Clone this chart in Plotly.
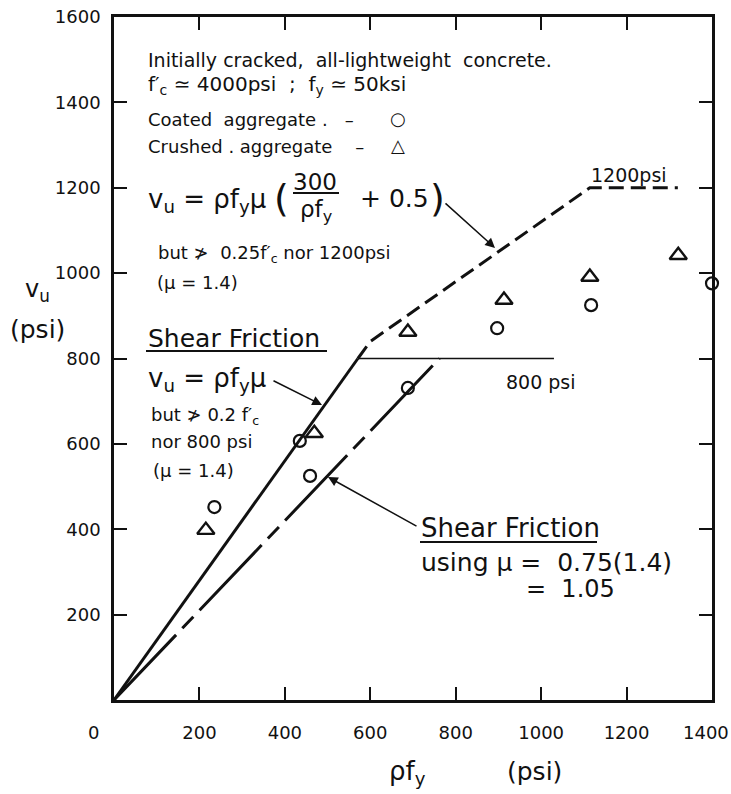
import plotly.graph_objects as go

# ---------------- data ----------------
coated_x = [235, 435, 459, 688, 897, 1117, 1400]
coated_y = [452, 607, 525, 731, 871, 925, 976]
crushed_x = [215, 469, 688, 913, 1114, 1321]
crushed_y = [398, 625, 862, 937, 991, 1042]

sf_x = [0, 571]            # shear friction, mu = 1.4, capped at 800 psi
sf_y = [0, 800]
cap800_x = [571, 1030]     # 800 psi limit
cap800_y = [800, 800]
mod_x = [571, 600, 1114, 1320]   # modified shear friction, capped at 1200 psi
mod_y = [800, 840, 1200, 1200]
red_x = [0, 762]           # shear friction with mu = 1.05
red_y = [0, 800]

x_ticks = [200, 400, 600, 800, 1000, 1200, 1400]
x_labels = ["200", "400", "600", "800", "1000", "1200", ""]   # 1400 drawn separately (shifted in)
y_ticks = [200, 400, 600, 800, 1000, 1200, 1400, 1600]
y_labels = ["200", "400", "600", "800", "1000", "1200", "1400", "1600"]

# ---------------- layout geometry ----------------
W, H = 731, 794
L, R, T, B = 114, 19, 17, 94
XMAX, YMAX = 1400, 1600
PW, PH = W - L - R, H - T - B


def PX(px):
    return (px - L) / PW


def PY(py):
    return (H - B - py) / PH


FONT = "DejaVu Sans"
BLACK = "#111"

fig = go.Figure()

fig.add_trace(go.Scatter(x=sf_x, y=sf_y, mode="lines",
                         line=dict(color=BLACK, width=3), showlegend=False))
fig.add_trace(go.Scatter(x=cap800_x, y=cap800_y, mode="lines",
                         line=dict(color=BLACK, width=1.6), showlegend=False))
fig.add_trace(go.Scatter(x=mod_x, y=mod_y, mode="lines",
                         line=dict(color=BLACK, width=3, dash="15px,7px"), showlegend=False))
fig.add_trace(go.Scatter(x=red_x, y=red_y, mode="lines",
                         line=dict(color=BLACK, width=3, dash="90px,9px,16px,9px"), showlegend=False))
fig.add_trace(go.Scatter(x=coated_x, y=coated_y, mode="markers", cliponaxis=False,
                         marker=dict(symbol="circle-open", size=12, color=BLACK,
                                     line=dict(width=2.2, color=BLACK)), showlegend=False))
fig.add_trace(go.Scatter(x=crushed_x, y=crushed_y, mode="markers", cliponaxis=False,
                         marker=dict(symbol="triangle-up-open", size=15, color=BLACK,
                                     line=dict(width=2.4, color=BLACK)), showlegend=False))

ann = []


def text(px, py, s, size, anchor="left"):
    ann.append(dict(x=PX(px), y=PY(py), xref="paper", yref="paper", text=s, showarrow=False,
                    xanchor=anchor, yanchor="middle",
                    font=dict(family=FONT, size=size, color=BLACK)))


def arrow(hx, hy, tx, ty):
    ann.append(dict(x=PX(hx), y=PY(hy), xref="paper", yref="paper", text="", showarrow=True,
                    ax=tx - hx, ay=ty - hy, arrowhead=2, arrowsize=1.3,
                    arrowwidth=1.5, arrowcolor=BLACK, standoff=0))


# header text
text(146, 60, "Initially cracked,  all-lightweight  concrete.", 19)
text(146, 85, "f′<sub>c</sub> ≃ 4000psi  ;  f<sub>y</sub> ≃ 50ksi", 20)
text(146, 120, "Coated  aggregate .   –", 18)
text(146, 146, "Crushed . aggregate    –", 18)
text(398, 118, "<b>○</b>", 18, "center")
text(398, 145, "<b>△</b>", 18, "center")

# modified shear friction formula
text(146, 200, "v<sub>u</sub> = ρf<sub>y</sub>μ", 26)
text(281, 198, "(", 38, "center")
text(315, 182, "300", 23, "center")
text(316, 211, "ρf<sub>y</sub>", 23, "center")
text(358, 198, "+ 0.5", 25)
text(437, 198, ")", 38, "center")
text(156, 254, "but ≯  0.25f′<sub>c</sub> nor 1200psi", 18)
text(155, 282, "(μ = 1.4)", 18)
arrow(495, 248, 444, 202)

# shear friction
text(146, 339, "Shear Friction", 25)
text(146, 379, "v<sub>u</sub> = ρf<sub>y</sub>μ", 26)
text(149, 416, "but ≯ 0.2 f′<sub>c</sub>", 18)
text(149, 442, "nor 800 psi", 18)
text(151, 470, "(μ = 1.4)", 18)
arrow(322, 405, 272, 380)

# limits
text(589, 175, "1200psi", 19)
text(504, 382, "800 psi", 19)

# reduced shear friction
text(419, 528, "Shear Friction", 26)
text(419, 562, "using μ =  0.75(1.4)", 25)
text(524, 589, "=  1.05", 24)
arrow(328, 477, 418, 527)

# axis titles, origin label and last x tick label
text(37, 291, "v<sub>u</sub>", 24, "center")
text(37, 329, "(psi)", 25, "center")
text(407, 772, "ρf<sub>y</sub>", 26, "center")
text(534, 771, "(psi)", 25, "center")
text(93, 732, "0", 18, "center")
text(706, 732, "1400", 18, "center")

shapes = [
    dict(type="line", xref="paper", yref="paper", x0=PX(293), x1=PX(339), y0=PY(193), y1=PY(193),
         line=dict(color=BLACK, width=2)),
    dict(type="line", xref="paper", yref="paper", x0=PX(146), x1=PX(327), y0=PY(351), y1=PY(351),
         line=dict(color=BLACK, width=2)),
    dict(type="line", xref="paper", yref="paper", x0=PX(420), x1=PX(597), y0=PY(542), y1=PY(542),
         line=dict(color=BLACK, width=2)),
]

axis_common = dict(showgrid=False, zeroline=False, showline=True, linecolor=BLACK,
                   linewidth=2.5, mirror="allticks", ticks="inside", ticklen=13,
                   tickwidth=2, tickcolor=BLACK, ticklabeloverflow="allow",
                   automargin=False,
                   tickfont=dict(family=FONT, size=18, color=BLACK))

fig.update_layout(
    width=W, height=H, margin=dict(l=L, r=R, t=T, b=B, autoexpand=False),
    paper_bgcolor="white", plot_bgcolor="white",
    xaxis=dict(range=[0, XMAX], tickvals=x_ticks, ticktext=x_labels,
               ticklabelstandoff=15, **axis_common),
    yaxis=dict(range=[0, YMAX], tickvals=y_ticks, ticktext=y_labels,
               ticklabelstandoff=7, **axis_common),
    annotations=ann, shapes=shapes, showlegend=False,
)

fig.write_html("out.html")
